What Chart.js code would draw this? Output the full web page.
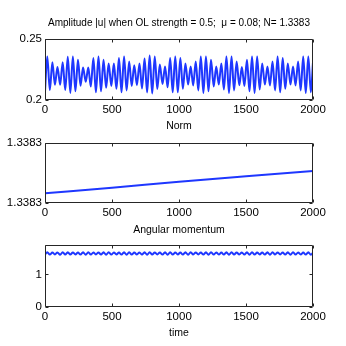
<!DOCTYPE html>
<html>
<head>
<meta charset="utf-8">
<script src="https://cdn.jsdelivr.net/npm/chart.js@4.4.0/dist/chart.umd.min.js"></script>
<style>
    html, body { margin: 0; padding: 0; background: #fff; }
    #wrap { position: relative; width: 346px; height: 346px; overflow: hidden; }
    #wrap canvas { position: absolute; left: 0; }
</style>
</head>
<body>
<div id="wrap">
    <canvas id="ampChart" width="346" height="122" style="top:0"></canvas>
    <canvas id="normChart" width="346" height="108" style="top:118px"></canvas>
    <canvas id="momChart" width="346" height="124" style="top:222px"></canvas>
</div>
<script>
// time samples (read at the peaks / troughs of the oscillation)
const time = [
    0, 17, 36, 55, 74, 93, 113, 132, 151, 170,
    189, 208, 227, 246, 265, 284, 304, 323, 342, 361,
    380, 399, 418, 437, 456, 475, 495, 514, 533, 552,
    571, 590, 609, 628, 647, 666, 686, 705, 724, 743,
    762, 781, 800, 819, 838, 857, 877, 896, 915, 934,
    953, 972, 991, 1010, 1029, 1048, 1068, 1087, 1106, 1125,
    1144, 1163, 1182, 1201, 1220, 1239, 1259, 1278, 1297, 1316,
    1335, 1354, 1373, 1392, 1411, 1430, 1450, 1469, 1488, 1507,
    1526, 1545, 1564, 1583, 1602, 1621, 1641, 1660, 1679, 1698,
    1717, 1736, 1755, 1774, 1793, 1812, 1832, 1851, 1870, 1889,
    1908, 1927, 1946, 1965, 1984, 2000
];

// amplitude |u|
const amplitude = [
    0.2065, 0.2358, 0.2078, 0.2310, 0.2122, 0.2270, 0.2122, 0.2310, 0.2079, 0.2355,
    0.2055, 0.2358, 0.2068, 0.2330, 0.2114, 0.2265, 0.2147, 0.2265, 0.2107, 0.2345,
    0.2060, 0.2358, 0.2068, 0.2330, 0.2097, 0.2300, 0.2112, 0.2300, 0.2089, 0.2345,
    0.2060, 0.2358, 0.2075, 0.2315, 0.2112, 0.2285, 0.2119, 0.2300, 0.2092, 0.2340,
    0.2059, 0.2365, 0.2050, 0.2358, 0.2088, 0.2290, 0.2129, 0.2275, 0.2102, 0.2345,
    0.2060, 0.2358, 0.2060, 0.2345, 0.2089, 0.2300, 0.2124, 0.2275, 0.2117, 0.2315,
    0.2075, 0.2358, 0.2054, 0.2358, 0.2068, 0.2330, 0.2109, 0.2275, 0.2124, 0.2300,
    0.2083, 0.2358, 0.2054, 0.2358, 0.2075, 0.2315, 0.2119, 0.2270, 0.2112, 0.2330,
    0.2068, 0.2358, 0.2054, 0.2358, 0.2083, 0.2300, 0.2124, 0.2275, 0.2117, 0.2315,
    0.2075, 0.2358, 0.2060, 0.2345, 0.2089, 0.2300, 0.2124, 0.2275, 0.2117, 0.2315,
    0.2075, 0.2358, 0.2054, 0.2358, 0.2060, 0.2310
];

// angular momentum (small wiggle around ~1.64)
const momentum = [
    1.612, 1.676, 1.606, 1.672, 1.610, 1.674, 1.604, 1.678, 1.606, 1.676,
    1.608, 1.672, 1.610, 1.670, 1.606, 1.676, 1.604, 1.678, 1.606, 1.674,
    1.610, 1.672, 1.608, 1.676, 1.604, 1.678, 1.606, 1.674, 1.610, 1.670,
    1.608, 1.676, 1.604, 1.678, 1.606, 1.672, 1.610, 1.674, 1.606, 1.676,
    1.604, 1.678, 1.608, 1.672, 1.610, 1.674, 1.606, 1.676, 1.604, 1.678,
    1.606, 1.672, 1.610, 1.670, 1.606, 1.676, 1.604, 1.678, 1.608, 1.674,
    1.610, 1.672, 1.606, 1.676, 1.604, 1.678, 1.606, 1.674, 1.608, 1.670,
    1.606, 1.676, 1.604, 1.678, 1.608, 1.672, 1.610, 1.674, 1.606, 1.676,
    1.604, 1.678, 1.606, 1.672, 1.610, 1.670, 1.606, 1.676, 1.604, 1.678,
    1.608, 1.674, 1.610, 1.672, 1.606, 1.676, 1.604, 1.678, 1.606, 1.674,
    1.608, 1.670, 1.606, 1.676, 1.604, 1.662
];

// norm: slow linear drift
const normTime = [0, 500, 1000, 1500, 2000];
const normValue = [1.3382724, 1.3382799, 1.3382881, 1.3382955, 1.3383026];

const xTicks = [0, 500, 1000, 1500, 2000];
const ampTicks = [0.2, 0.25];
const normTicks = [1.33826, 1.33834];
const momTicks = [0, 1];

const FONT = "'Liberation Sans', Arial, Helvetica, sans-serif";
const LINE_COLOR = 'rgb(30, 55, 255)';

Chart.defaults.font.family = FONT;
Chart.defaults.font.size = 11.5;
Chart.defaults.color = '#000';

/**
 * MATLAB style box with inward tick marks on all four sides
 */
const matlabBox = {
    id: 'matlabBox',
    afterDatasetsDraw(chart) {
        const { ctx, chartArea: a, scales: { x, y } } = chart;
        const L = Math.round(a.left) + 0.5, R = Math.round(a.right) - 0.5;
        const T = Math.round(a.top) + 0.5, B = Math.round(a.bottom) - 0.5;
        const len = 3;
        ctx.save();
        ctx.strokeStyle = '#262626';
        ctx.lineWidth = 1;
        ctx.beginPath();
        ctx.rect(L, T, R - L, B - T);
        x.ticks.forEach(t => {
            const px = Math.round(x.getPixelForValue(t.value)) + 0.5;
            ctx.moveTo(px, B); ctx.lineTo(px, B - len);
            ctx.moveTo(px, T); ctx.lineTo(px, T + len);
        });
        y.ticks.forEach(t => {
            const py = Math.round(y.getPixelForValue(t.value)) + 0.5;
            ctx.moveTo(L, py); ctx.lineTo(L + len, py);
            ctx.moveTo(R, py); ctx.lineTo(R - len, py);
        });
        ctx.stroke();
        ctx.restore();
    }
};

/**
 * Builds one subplot
 */
function makeChart(id, cfg) {
    return new Chart(document.getElementById(id), {
        type: 'line',
        data: {
            datasets: [{
                data: cfg.xs.map((v, i) => ({ x: v, y: cfg.ys[i] })),
                borderColor: LINE_COLOR,
                borderWidth: 2,
                pointRadius: 0,
                fill: false,
                cubicInterpolationMode: 'monotone'
            }]
        },
        options: {
            responsive: false,
            animation: false,
            layout: { padding: { left: 0, right: 33, top: 0, bottom: 0 } },
            plugins: {
                legend: { display: false },
                tooltip: { enabled: false },
                title: {
                    display: true,
                    fullSize: false,
                    text: cfg.title,
                    font: { size: cfg.titleSize, weight: 'normal' },
                    color: '#000',
                    padding: cfg.titlePad
                }
            },
            scales: {
                x: {
                    type: 'linear',
                    min: 0,
                    max: 2000,
                    grid: { display: false, drawTicks: false },
                    border: { display: false },
                    afterBuildTicks: s => { s.ticks = xTicks.map(v => ({ value: v })); },
                    ticks: { padding: 3, maxRotation: 0, autoSkip: false, callback: v => String(v) },
                    title: {
                        display: !!cfg.xTitle,
                        text: cfg.xTitle || '',
                        font: { size: 10.5 },
                        padding: { top: 0, bottom: cfg.xTitlePad || 0 }
                    },
                    afterFit: s => {
                        s.height = cfg.xHeight;
                        s.paddingLeft = 0;
                        s.paddingRight = 0;
                    }
                },
                y: {
                    type: 'linear',
                    min: cfg.yMin,
                    max: cfg.yMax,
                    grid: { display: false, drawTicks: false },
                    border: { display: false },
                    afterBuildTicks: s => { s.ticks = cfg.yTicks.map(v => ({ value: v })); },
                    ticks: { padding: 3, callback: cfg.yFormat },
                    afterFit: s => {
                        s.width = 45;
                        s.paddingTop = 0;
                        s.paddingBottom = 0;
                    }
                }
            }
        },
        plugins: [matlabBox]
    });
}

makeChart('ampChart', {
    xs: time, ys: amplitude,
    title: 'Amplitude |u| when OL strength = 0.5;  \u03bc = 0.08; N= 1.3383',
    titleSize: 10,
    titlePad: { top: 17, bottom: 10.3 },
    xHeight: 22.5,
    yMin: 0.2, yMax: 0.25, yTicks: ampTicks,
    yFormat: v => String(v)
});

makeChart('normChart', {
    xs: normTime, ys: normValue,
    title: 'Norm',
    titleSize: 10.5,
    titlePad: { top: 2.2, bottom: 10.5 },
    xHeight: 23.5,
    yMin: normTicks[0], yMax: normTicks[1], yTicks: normTicks,
    yFormat: v => v.toFixed(4)
});

makeChart('momChart', {
    xs: time, ys: momentum,
    title: 'Angular momentum',
    titleSize: 10.5,
    titlePad: { top: 1.7, bottom: 9.0 },
    xHeight: 38.7,
    xTitle: 'time',
    xTitlePad: 6.7,
    yMin: 0, yMax: 1.89, yTicks: momTicks,
    yFormat: v => String(v)
});
</script>
</body>
</html>
